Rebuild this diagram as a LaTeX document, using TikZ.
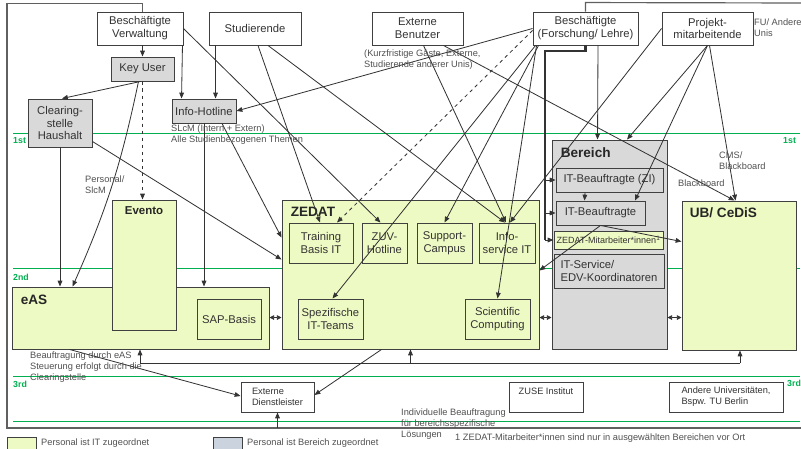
\documentclass[tikz,border=0pt]{standalone}
\usepackage{fontspec}
\setmainfont{Liberation Sans}
\usetikzlibrary{arrows.meta,calc}
\definecolor{boxline}{HTML}{404040}
\definecolor{conn}{HTML}{333333}
\definecolor{grayfill}{HTML}{D9D9D9}
\definecolor{greenfill}{HTML}{EEFAC3}
\definecolor{legendblue}{HTML}{CBD3DE}
\definecolor{tiergreen}{HTML}{00B050}
\definecolor{notetext}{HTML}{505050}
\definecolor{framegray}{HTML}{606060}
\newcommand{\boxfont}{\fontsize{9.6}{11}\selectfont}
\newcommand{\notefont}{\fontsize{7.9}{9.4}\selectfont}
\newcommand{\titlefont}{\bfseries\fontsize{11.6}{13}\selectfont}

\begin{document}
\begin{tikzpicture}[x=0.03cm, y=-0.03cm,
  box/.style={draw=boxline, fill=white, line width=0.8pt, align=center, inner sep=1pt, font=\boxfont, text=black!80},
  graybox/.style={box, fill=grayfill},
  greenbox/.style={box, fill=greenfill},
  sz/.style 2 args={minimum width=#1*0.03cm, minimum height=#2*0.03cm},
  arr/.style={draw=conn, line width=0.7pt, -{Triangle[length=5pt,width=4pt]}},
  dual/.style={draw=conn, line width=0.7pt, {Triangle[length=4pt,width=4pt]}-{Triangle[length=4pt,width=4pt]}},
  note/.style={anchor=west, align=left, font=\notefont, text=notetext, inner sep=0pt},
  title/.style={anchor=west, font=\titlefont, text=black!85, inner sep=0pt},
  tier/.style={draw=tiergreen, line width=0.8pt},
  tierlbl/.style={font=\bfseries\fontsize{7.5}{9}\selectfont, text=tiergreen, anchor=west, inner sep=0pt},
  frame/.style={draw=framegray, line width=1pt}]
\clip (0,0) rectangle (801,449);

% tiers
\draw[tier] (13,133) -- (800,133);
\draw[tier] (13,268) -- (800,268);
\draw[tier] (13,376) -- (800,376);
\draw[tier] (13,421) -- (800,421);
\node[tierlbl] (t1l) at (13,141) {1st};
\node[tierlbl] (t1r) at (783,141) {1st};
\node[tierlbl] (t2l) at (13,277) {2nd};
\node[tierlbl] (t3l) at (13,384) {3rd};
\node[tierlbl] (t3r) at (787,383) {3rd};

% IT side
\node[greenbox, sz={257}{62}] (eas) at (140.5,318) {};
\node[greenbox, sz={64}{130}] (evento) at (144,265) {};
\node[greenbox, sz={64}{40}] (sap) at (229,319) {SAP-Basis};
\node[title] (eas-t) at ($(eas.north west)+(9,13)$) {eAS};
\node[title, anchor=center, font=\bfseries\fontsize{9.8}{11}\selectfont] (evento-t) at ($(evento.north)+(0,11)$) {Evento};

\node[greenbox, sz={257}{149}] (zedat) at (410.5,274.5) {};
\node[title] (zedat-t) at ($(zedat.north west)+(9,12)$) {ZEDAT};
\node[greenbox, sz={64}{40}] (train) at (321,243) {Training\\Basis IT};
\node[greenbox, sz={45}{40}] (zuv) at (384.5,243) {ZUV-\\Hotline};
\node[greenbox, sz={55}{40}] (supp) at (444.5,243) {Support-\\Campus};
\node[greenbox, sz={56}{40}] (info) at (507,243) {Info-\\service IT};
\node[greenbox, sz={65}{40}] (spez) at (330.5,319) {Spezifische\\IT-Teams};
\node[greenbox, sz={65}{40}] (sci) at (497.5,319) {Scientific\\Computing};

% Bereich
\node[graybox, sz={115}{209}] (ber) at (609.5,244.5) {};
\node[title] (ber-t) at ($(ber.north west)+(9,13)$) {Bereich};
\node[graybox, sz={107}{24}] (zi) at (609.5,180) {IT-Beauftragte (ZI)};
\node[graybox, sz={89}{24}] (itb) at (600.5,213) {IT-Beauftragte};
\node[greenbox, sz={109}{18}, font=\fontsize{7.7}{9}\selectfont] (zma) at (608.5,240) {ZEDAT-Mitarbeiter*innen\textsuperscript{1}};
\node[graybox, sz={110}{34}, align=left] (edv) at (609,271) {IT-Service/\\EDV-Koordinatoren};

\node[greenbox, sz={114}{149}] (ub) at (739,275.5) {};
\node[title] (ub-t) at ($(ub.north west)+(8,12)$) {UB/ CeDiS};

% user groups
\node[box, sz={86}{33}] (bv) at (140,28.5) {Beschäftigte\\Verwaltung};
\node[box, sz={92}{33}] (stud) at (255,28.5) {Studierende};
\node[box, sz={91}{33}] (extb) at (417.5,28.5) {Externe\\Benutzer};
\node[box, sz={105}{33}] (bf) at (585.5,28.5) {Beschäftigte\\(Forschung/ Lehre)};
\node[box, sz={91}{33}] (pm) at (707.5,28.5) {Projekt-\\mitarbeitende};
\node[graybox, sz={63}{24}] (key) at (142.5,69) {Key User};
\node[graybox, sz={64}{24}] (hot) at (204,111) {Info-Hotline};
\node[graybox, sz={64}{48}] (clear) at (60,123) {Clearing-\\stelle\\Haushalt};

% 3rd level
\node[box, sz={73}{30}, font=\notefont, align=left] (extd) at (277.5,397) {Externe\\Dienstleister};
\node[box, sz={74}{30}, font=\notefont] (zuse) at (546,397) {ZUSE Institut\\\mbox{}};
\node[box, sz={114}{30}, font=\notefont, align=left] (andere) at (726,397) {Andere Universitäten,\\Bspw. TU Berlin};

% frame
\coordinate (frameB) at (7,428);
\draw[frame] (key.north |- bv.north) -- ++(0,-8) -| (frameB) -- (801,428);
\draw[frame] (bf.north) -- ++(0,-9) -- (801,3);

% connectors
\draw[arr] (key.north |- bv.south) -- (key.north);
\draw[arr] ($(bv.south east)+(-1,0)$) -- ($(hot.north west)+(10,0)$);
\draw[arr] (bv.east) -- ($(zuv.north)+(-4,0)$);
\draw[arr] ($(key.south)+(-2,0)$) -- ($(clear.north)+(2,0)$);
\draw[arr] ($(key.south)+(-4,0)$) to[bend left=6] ($(eas.north west)+(61,0)$);
\draw[arr, dashed] (key.south) -- (key.south |- evento.north);
\draw[arr] (clear.south) -- (clear.south |- eas.north);
\draw[arr] ($(clear.south east)+(0,-6)$) -- ($(zedat.north west)+(0,60)$);
\draw[arr] ($(hot.south)+(18,0)$) -- ($(zedat.north west)+(0,38)$);
\draw[arr] (hot.south) -- (hot.south |- eas.north);
\draw[arr] ($(stud.south west)+(7,0)$) -- ($(hot.north west)+(44,0)$);
\draw[arr] ($(stud.south)+(3,0)$) -- ($(train.north)+(-1,0)$);
\draw[arr] ($(stud.south)+(13,0)$) -- ($(info.north)+(-2,0)$);
\draw[arr] ($(extb.south)+(6,0)$) -- ($(info.north)+(-1,0)$);
\draw[arr] ($(extb.south east)+(-20,0)$) -- ($(ub.north west)+(53,0)$);
\draw[arr] (bf.west) -- (hot.east);
\draw[arr, dashed] ($(bf.west)+(0,2)$) -- ($(train.north)+(16,0)$);
\draw[arr] ($(bf.south west)+(3,0)$) -- ($(spez.north)+(2,0)$);
\draw[arr] ($(bf.south west)+(6,0)$) -- (supp.north);
\draw[arr] ($(bf.south west)+(4,0)$) -- (sci.north);
\draw[arr] ($(bf.south)+(12.5,0)$) -- ($(ber.north west)+(46,0)$);
\coordinate (busF) at (545,51);
\draw[draw=conn, line width=1.8pt] (bf.south) -- (bf.south |- busF) -- (busF) -- (busF |- zma.west);
\draw[arr] (zi.west -| busF) -- (zi.west);
\draw[arr] (itb.west -| busF) -- (itb.west);
\draw[arr] (zma.west -| busF) -- (zma.west);
\draw[arr] (pm.west) -- ($(info.north)+(3,0)$);
\draw[arr] (pm.south) -- ($(ber.north)+(17.5,0)$);
\draw[arr] (pm.south) -- ($(itb.north)+(34.5,0)$);
\draw[arr] ($(pm.south)+(2,0)$) -- ($(ub.north west)+(54,0)$);
\draw[arr] ($(zi.south)+(-24.5,0)$) -- ($(itb.north west)+(29,0)$);
\draw[arr] (itb.south) -- ($(ub.north west)+(0,41)$);
\draw[arr] (itb.south) -- ($(zedat.north east)+(0,71)$);
\draw[dual] ($(eas.north east)+(0,31)$) -- ($(zedat.north west)+(0,118)$);
\draw[dual] ($(zedat.north east)+(0,118)$) -- ($(ber.north west)+(0,178)$);
\draw[dual] ($(ber.north east)+(0,178)$) -- ($(ub.north west)+(0,117)$);
\coordinate (busL) at (140,363);
\coordinate (busR) at (740,363);
\draw[draw=conn, line width=0.7pt] (busL) -- (busR);
\draw[arr] (busL) -- (busL |- eas.south);
\draw[arr] (zedat.south |- busL) -- (zedat.south);
\draw[arr] (busR) -- (busR |- ub.south);
\draw[arr] ($(eas.south west)+(58,0)$) -- ($(extd.west)+(0,-1)$);
\draw[arr] ($(zedat.south west)+(100,0)$) -- ($(extd.east)+(0,-2)$);
\draw[arr] (extd.south |- frameB) -- (extd.south);

% notes
\node[note] (n-slcm) at (171,134.5) {SLcM (Intern + Extern)\\Alle Studienbezogenen Themen};
\node[note] (n-ext) at (364,60) {(Kurzfristige Gäste, Externe,\\Studierende anderer Unis)};
\node[note] (n-pers) at (85,184.5) {Personal/\\SlcM};
\node[note] (n-fu) at (754,28) {FU/ Andere\\Unis};
\node[note] (n-cms) at (719,161) {CMS/\\Blackboard};
\node[note] (n-bb) at (678,183) {Blackboard};
\node[note] (n-eas) at (30,367) {Beauftragung durch eAS\\Steuerung erfolgt durch die\\Clearingstelle};
\node[note] (n-ind) at (401,424.5) {Individuelle Beauftragung\\für bereichsspezifische\\Lösungen};
\node[note] (n-foot) at (455,438) {1 ZEDAT-Mitarbeiter*innen sind nur in ausgewählten Bereichen vor Ort};

% legend
\node[greenbox, sz={29}{16}, anchor=north west] (leg1) at (7,437) {};
\node[note] (leg1-t) at (41,443) {Personal ist IT zugeordnet};
\node[box, fill=legendblue, sz={29}{16}, anchor=north west] (leg2) at (213,437) {};
\node[note] (leg2-t) at (247,443) {Personal ist Bereich zugeordnet};
\end{tikzpicture}
\end{document}
